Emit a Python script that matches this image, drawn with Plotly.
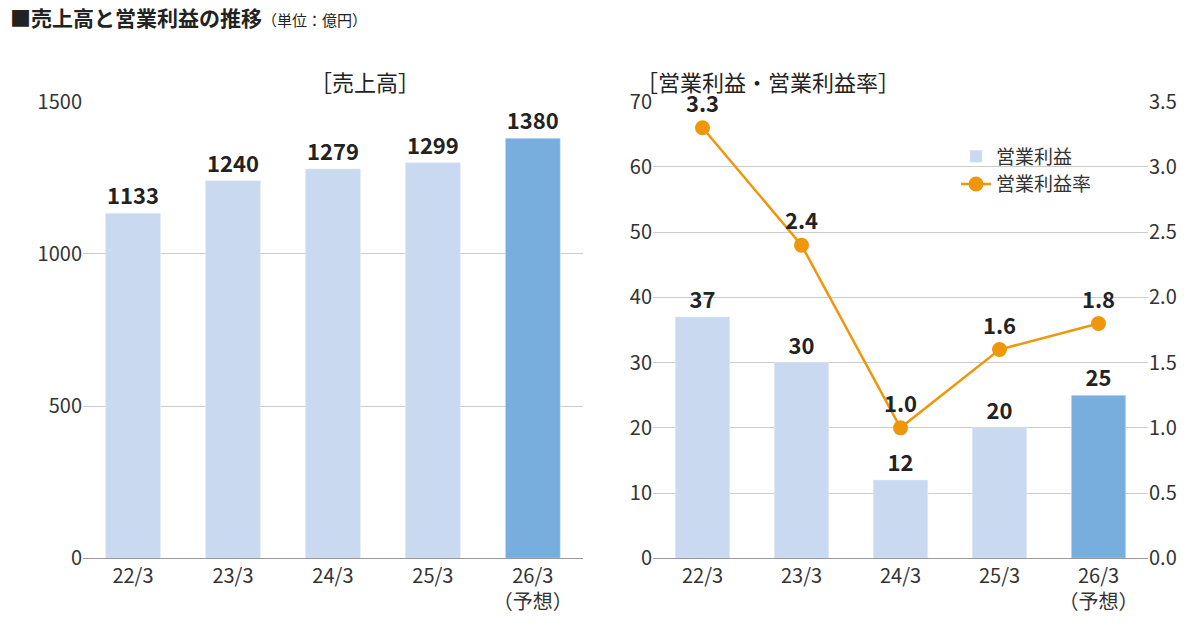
import plotly.graph_objects as go

years = ["22/3", "23/3", "24/3", "25/3", "26/3<br>（予想）"]
sales = [1133, 1240, 1279, 1299, 1380]
op_profit = [37, 30, 12, 20, 25]
op_margin = [3.3, 2.4, 1.0, 1.6, 1.8]
margin_labels = ["3.3", "2.4", "1.0", "1.6", "1.8"]

light = "#c9d9ef"
dark = "#77aede"
orange = "#f0960a"
colors = [light, light, light, light, dark]
font = "Noto Sans CJK JP"

fig = go.Figure()
fig.add_trace(go.Bar(
    x=years, y=sales, marker_color=colors, width=0.55,
    text=sales, textposition="outside", cliponaxis=False,
    textfont=dict(size=22, color="#222", family=font, weight="bold"),
    xaxis="x", yaxis="y", showlegend=False,
))
fig.add_trace(go.Bar(
    x=years, y=op_profit, marker_color=colors, width=0.55,
    text=op_profit, textposition="outside", cliponaxis=False,
    textfont=dict(size=22, color="#222", family=font, weight="bold"),
    xaxis="x2", yaxis="y2", name="営業利益",
))
fig.add_trace(go.Scatter(
    x=years, y=op_margin, mode="lines+markers+text",
    line=dict(color=orange, width=2.5), marker=dict(size=15, color=orange),
    text=margin_labels, textposition="top center", cliponaxis=False,
    textfont=dict(size=22, color="#222", family=font, weight="bold"),
    xaxis="x2", yaxis="y3", name="営業利益率",
))

tick = dict(size=20, color="#333", family=font)
grid = "#cccccc"
fig.update_layout(
    width=1200, height=626, margin=dict(l=0, r=0, t=0, b=0),
    plot_bgcolor="white", paper_bgcolor="white", font=dict(family=font),
    bargap=0.45,
    xaxis=dict(domain=[0.0625, 0.479], tickfont=tick, showline=True,
               linecolor="#999", anchor="y"),
    yaxis=dict(domain=[0.105, 0.87], range=[0, 1500], dtick=500,
               tickfont=tick, gridcolor=grid, zeroline=False),
    xaxis2=dict(domain=[0.5375, 0.95], tickfont=tick, showline=True,
                linecolor="#999", anchor="y2"),
    yaxis2=dict(domain=[0.105, 0.87], range=[0, 70], dtick=10,
                tickfont=tick, gridcolor=grid, zeroline=False, anchor="x2"),
    yaxis3=dict(domain=[0.105, 0.87], range=[0, 3.5], dtick=0.5,
                tickformat=".1f", tickfont=tick, overlaying="y2",
                side="right", anchor="x2", showgrid=False),
    legend=dict(x=0.79, y=0.81, xanchor="left", yanchor="top",
                font=dict(size=19, color="#333", family=font),
                bgcolor="rgba(255,255,255,0)"),
    annotations=[
        dict(text="<b>■売上高と営業利益の推移</b><span style='font-size:15px'>（単位：億円）</span>",
             x=0.0, y=1.0, xref="paper", yref="paper", xanchor="left",
             yanchor="middle", yshift=7, showarrow=False,
             font=dict(size=21, color="#222")),
        dict(text="［売上高］", x=0.25, y=0.935, xref="paper", yref="paper",
             showarrow=False, font=dict(size=22, color="#222")),
        dict(text="［営業利益・営業利益率］", x=0.745, y=0.935, xref="paper",
             yref="paper", showarrow=False, font=dict(size=22, color="#222")),
    ],
)
fig.write_html("out.html")
